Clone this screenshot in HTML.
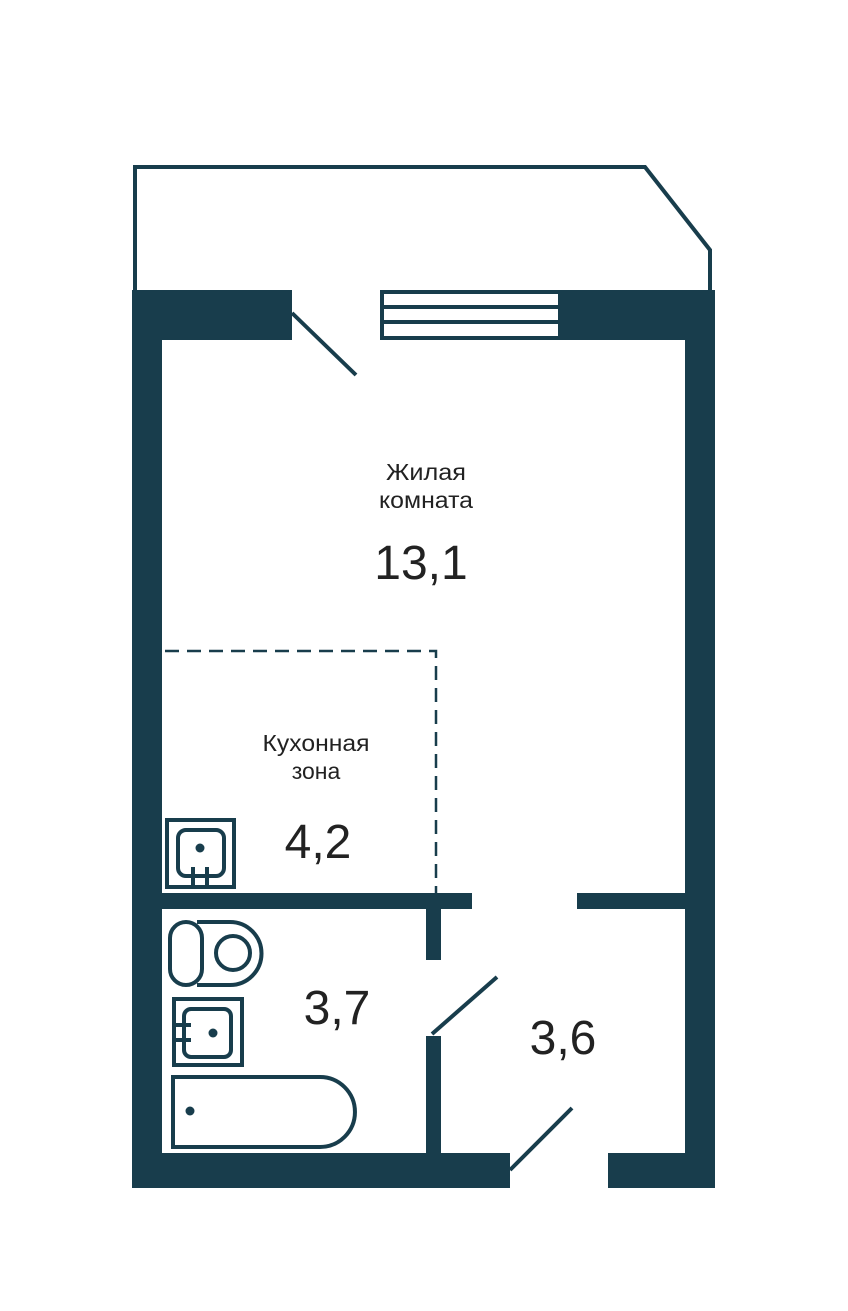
<!DOCTYPE html>
<html><head><meta charset="utf-8"><style>body{margin:0;background:#fff}svg{display:block}</style></head><body>
<svg width="848" height="1311" viewBox="0 0 848 1311" xmlns="http://www.w3.org/2000/svg">
<g fill="none" stroke="#183d4c" stroke-width="4">
<polyline points="135,290 135,167 645,167 710,250 710,290"/>
<line x1="292" y1="313" x2="356" y2="375"/>
<line x1="432" y1="1034" x2="497" y2="977"/>
<line x1="510" y1="1170" x2="572" y2="1108"/>
<rect x="382" y="292" width="178" height="46"/>
<line x1="382" y1="307" x2="560" y2="307"/>
<line x1="382" y1="322" x2="560" y2="322"/>
<path d="M165 651 H436 V893" stroke-dasharray="14 8" stroke-width="2.5"/>
<rect x="167" y="820" width="67" height="67"/>
<rect x="178" y="830" width="46" height="46" rx="8"/>
<line x1="193" y1="867" x2="193" y2="887"/><line x1="207" y1="867" x2="207" y2="887"/>
<rect x="170" y="922" width="32" height="63" rx="16"/>
<path d="M197 922 H230 A31.5 31.5 0 0 1 230 985 H197"/>
<circle cx="233" cy="953" r="17"/>
<rect x="174" y="999" width="68" height="66"/>
<rect x="184" y="1009" width="47" height="48" rx="7"/>
<line x1="175" y1="1025" x2="191" y2="1025"/><line x1="175" y1="1040" x2="191" y2="1040"/>
<path d="M173 1077 H320 A35 35 0 0 1 320 1147 H173 Z"/>
</g>
<g fill="#183d4c">
<circle cx="200" cy="848" r="4.5"/><circle cx="213" cy="1033" r="4.5"/><circle cx="190" cy="1111" r="4.5"/>
<rect x="132" y="290" width="160" height="50"/>
<rect x="562" y="290" width="153" height="50"/>
<rect x="132" y="290" width="30" height="898"/>
<rect x="685" y="290" width="30" height="898"/>
<rect x="132" y="1153" width="378" height="35"/>
<rect x="608" y="1153" width="107" height="35"/>
<rect x="162" y="893" width="310" height="16"/>
<rect x="426" y="893" width="15" height="67"/>
<rect x="577" y="893" width="108" height="16"/>
<rect x="426" y="1036" width="15" height="120"/>
</g>
<g fill="#222" font-family="Liberation Sans, sans-serif" text-anchor="middle">
<text x="426" y="480" font-size="23" textLength="80" lengthAdjust="spacingAndGlyphs">Жилая</text>
<text x="426" y="508" font-size="23" textLength="94" lengthAdjust="spacingAndGlyphs">комната</text>
<text x="421" y="579" font-size="48">13,1</text>
<text x="316" y="751" font-size="23" textLength="107" lengthAdjust="spacingAndGlyphs">Кухонная</text>
<text x="316" y="779" font-size="23">зона</text>
<text x="318" y="858" font-size="48">4,2</text>
<text x="337" y="1024" font-size="48">3,7</text>
<text x="563" y="1054" font-size="48">3,6</text>
</g>
</svg>
</body></html>
